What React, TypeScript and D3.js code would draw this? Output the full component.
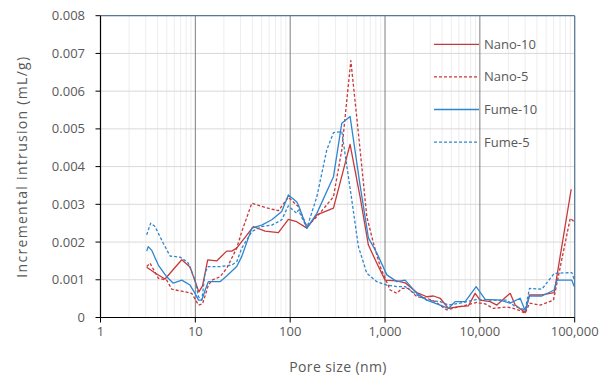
import React from "react";
import * as d3 from "d3";

// pore size (nm), incremental intrusion (mL/g)
const nano10: [number, number][] = [
  [3.07, 0.00133], [3.76, 0.00118], [4.79, 0.00102], [7.19, 0.00153], [8.79, 0.00134],
  [10.9, 0.00068], [11.9, 0.00084], [13.5, 0.00153], [16.8, 0.0015], [21.4, 0.00176],
  [24.2, 0.00176], [27.3, 0.00184], [40.9, 0.00241], [54.4, 0.00229], [75.1, 0.00225],
  [95.7, 0.0026], [117, 0.00254], [150, 0.00237], [191, 0.00272], [286, 0.0029],
  [428, 0.00459], [546, 0.0032], [668, 0.00192], [820, 0.00144], [1002, 0.00099],
  [1333, 0.00097], [1629, 0.00092], [2165, 0.00066], [2759, 0.00055], [3243, 0.00057],
  [3813, 0.00051], [4665, 0.00024], [5948, 0.00029], [7585, 0.00031], [8917, 0.00064],
  [10070, 0.00046], [12850, 0.00042], [15100, 0.00033], [20870, 0.00064], [23570, 0.00033],
  [30050, 0.00013], [33360, 0.0006], [45070, 0.0006], [60790, 0.00066], [91830, 0.0034],
];

const nano5: [number, number][] = [
  [3.07, 0.00135], [3.33, 0.00144], [4.07, 0.00104], [4.99, 0.00099], [5.64, 0.00075],
  [7.79, 0.00068], [9.16, 0.00064], [10.8, 0.00033], [11.9, 0.00036], [13.7, 0.00085],
  [14.9, 0.00099], [18.2, 0.00108], [21.4, 0.0013], [27.3, 0.00184], [30.9, 0.00228],
  [39.4, 0.00303], [54.4, 0.00292], [75.1, 0.00283], [95.7, 0.00319], [117, 0.00298],
  [122, 0.00294], [150, 0.00241], [191, 0.00267], [286, 0.0032], [350, 0.00444],
  [436, 0.00681], [524, 0.00489], [643, 0.00267], [755, 0.00197], [889, 0.00135],
  [1132, 0.00073], [1333, 0.00064], [1504, 0.00077], [1766, 0.00077], [2165, 0.00055],
  [2759, 0.00051], [3377, 0.00042], [4487, 0.0002], [6198, 0.00029], [9290, 0.0004],
  [11380, 0.00036], [13910, 0.00024], [19260, 0.00028], [22610, 0.00024], [26600, 0.00018],
  [30050, 0.00011], [33360, 0.00038], [43250, 0.00033], [59730, 0.00046], [89700, 0.00263],
  [98850, 0.00254],
];

const fume10: [number, number][] = [
  [3.07, 0.00176], [3.19, 0.00188], [3.47, 0.00178], [4.07, 0.00139], [4.99, 0.00108],
  [5.86, 0.00091], [7.19, 0.00099], [8.79, 0.00086], [9.93, 0.00064], [10.8, 0.00046],
  [11.7, 0.00046], [12.7, 0.00073], [13.7, 0.00095], [18.2, 0.00095], [21.4, 0.0011],
  [27.3, 0.00135], [30.9, 0.00162], [39.4, 0.00237], [50.1, 0.00245], [64.0, 0.00259],
  [81.5, 0.00281], [95.7, 0.00325], [117, 0.00307], [122, 0.00298], [150, 0.00237],
  [191, 0.00276], [286, 0.00373], [350, 0.00515], [428, 0.00533], [546, 0.0035],
  [668, 0.00211], [820, 0.00171], [1045, 0.00113], [1333, 0.00095], [1629, 0.00099],
  [2165, 0.00064], [2759, 0.00046], [3813, 0.00033], [4665, 0.00024], [5486, 0.00042],
  [6998, 0.00042], [9140, 0.00082], [11380, 0.00048], [16370, 0.00046], [20870, 0.00038],
  [26600, 0.00051], [30050, 0.00018], [33360, 0.00057], [45070, 0.00057], [60790, 0.00073],
  [64920, 0.00099], [93330, 0.00099], [98850, 0.00082],
];

const fume5: [number, number][] = [
  [3.07, 0.00219], [3.38, 0.0025], [3.76, 0.00241], [4.59, 0.00197], [5.41, 0.00163],
  [6.9, 0.0016], [8.11, 0.00148], [8.44, 0.00144], [9.93, 0.00099], [10.8, 0.00055],
  [11.7, 0.00046], [12.7, 0.0012], [13.7, 0.00135], [18.2, 0.00135], [24.2, 0.00139],
  [27.3, 0.00148], [30.9, 0.00184], [39.4, 0.00228], [50.1, 0.00241], [64.0, 0.00245],
  [81.5, 0.00259], [95.7, 0.00296], [117, 0.00276], [122, 0.00285], [150, 0.00237],
  [191, 0.0032], [243, 0.00444], [286, 0.0049], [350, 0.00493], [446, 0.00312],
  [524, 0.00188], [643, 0.00117], [820, 0.00095], [1045, 0.00086], [1333, 0.00082],
  [1629, 0.00082], [2165, 0.0006], [2759, 0.00046], [3813, 0.00042], [4665, 0.00033],
  [6198, 0.00038], [9290, 0.00048], [12850, 0.00046], [19260, 0.00046], [23570, 0.00029],
  [30050, 0.0002], [33360, 0.00077], [45070, 0.00075], [60790, 0.00117], [93330, 0.00119],
  [98850, 0.001],
];

const yTicks = [0, 0.001, 0.002, 0.003, 0.004, 0.005, 0.006, 0.007, 0.008];
const xTicks = [1, 10, 100, 1000, 10000, 100000];

const RED = "#C8383A";
const BLUE = "#2F86CF";

const series = [
  { name: "Nano-10", data: nano10, color: RED, dash: "" },
  { name: "Nano-5", data: nano5, color: RED, dash: "3,2" },
  { name: "Fume-10", data: fume10, color: BLUE, dash: "" },
  { name: "Fume-5", data: fume5, color: BLUE, dash: "3,2" },
];

const W = 607;
const H = 381;
const left = 100.5;
const right = 574.7;
const top = 15.7;
const bottom = 317.5;

export default function App() {
  const x = d3.scaleLog().domain([1, 100000]).range([left, right]);
  const y = d3.scaleLinear().domain([0, 0.008]).range([bottom, top]);

  const line = d3
    .line<[number, number]>()
    .x((d) => x(d[0]))
    .y((d) => y(d[1]));

  const minor = x.ticks().filter((t) => !xTicks.includes(t));
  const font = "'Open Sans', sans-serif";
  const grey = "#595959";

  return (
    <svg width={W} height={H} style={{ position: "absolute", left: 0, top: 0 }} fontFamily={font}>
      <rect width={W} height={H} fill="#fff" />
      {/* minor vertical grid */}
      {minor.map((t) => (
        <line key={"m" + t} x1={x(t)} x2={x(t)} y1={top} y2={bottom} stroke="#EDEDED" strokeWidth={1} />
      ))}
      {/* horizontal grid */}
      {yTicks.slice(1).map((t) => (
        <line key={"h" + t} x1={left} x2={right} y1={y(t)} y2={y(t)} stroke="#D9D9D9" strokeWidth={1} />
      ))}
      {/* major vertical grid */}
      {xTicks.slice(1, -1).map((t) => (
        <line key={"M" + t} x1={x(t)} x2={x(t)} y1={top} y2={bottom} stroke="#7F7F7F" strokeWidth={1} />
      ))}
      {/* border top/right */}
      <line x1={left} x2={right} y1={top} y2={top} stroke="#5A7896" strokeWidth={1.3} />
      <line x1={right} x2={right} y1={top} y2={bottom} stroke="#5A7896" strokeWidth={1.3} />

      {/* series */}
      {series.map((s) => (
        <path
          key={s.name}
          d={line(s.data) || ""}
          fill="none"
          stroke={s.color}
          strokeWidth={1.3}
          strokeDasharray={s.dash || undefined}
          strokeLinejoin="round"
        />
      ))}

      {/* axes */}
      <line x1={left} x2={left} y1={top} y2={bottom} stroke="#000" strokeWidth={1.2} />
      <line x1={left} x2={right} y1={bottom} y2={bottom} stroke="#000" strokeWidth={1.2} />
      {yTicks.map((t) => (
        <g key={"yt" + t}>
          <line x1={left - 5} x2={left} y1={y(t)} y2={y(t)} stroke="#000" />
          <text x={85} y={y(t)} dy="0.35em" textAnchor="end" fontSize={13} fill={grey}>
            {t === 0 ? "0" : d3.format(".3f")(t)}
          </text>
        </g>
      ))}
      {xTicks.map((t) => (
        <g key={"xt" + t}>
          <line x1={x(t)} x2={x(t)} y1={bottom} y2={bottom + 5} stroke="#000" />
          <text x={x(t)} y={336} textAnchor="middle" fontSize={13} fill={grey}>
            {d3.format(",")(t)}
          </text>
        </g>
      ))}

      <text x={338} y={372} textAnchor="middle" fontSize={14} fill={grey} letterSpacing={0.4}>
        Pore size (nm)
      </text>
      <text
        transform={`translate(27,${(top + bottom) / 2}) rotate(-90)`}
        textAnchor="middle"
        fontSize={14}
        fill={grey}
        letterSpacing={1.3}
      >
        Incremental intrusion (mL/g)
      </text>

      {/* legend */}
      {series.map((s, i) => {
        const ly = 44.3 + i * 32.6;
        return (
          <g key={"lg" + s.name}>
            <line x1={434} x2={479} y1={ly} y2={ly} stroke={s.color} strokeWidth={1.3} strokeDasharray={s.dash || undefined} />
            <text x={484} y={ly} dy="0.35em" fontSize={13} fill={grey}>
              {s.name}
            </text>
          </g>
        );
      })}
    </svg>
  );
}
